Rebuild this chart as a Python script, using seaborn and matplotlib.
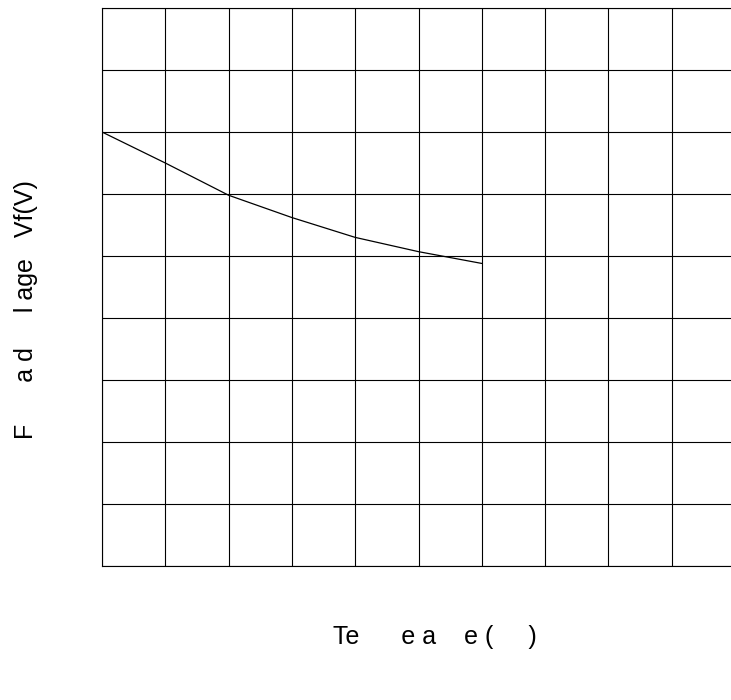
import matplotlib
matplotlib.use("Agg")
import matplotlib.pyplot as plt
import pandas as pd
import seaborn as sns

# grid divisions (no tick labels on the original chart)
temp_div = [0, 1, 2, 3, 4, 5, 6]
vf_div = [7.0, 6.5, 5.98, 5.62, 5.30, 5.07, 4.88]

# labels as they render in the source (missing glyphs show as gaps)
xlabel = "Te" + " " * 6 + "e" + " " + "a" + " " * 4 + "e" + " " + "(" + " " * 5 + ")"
ylabel = "F" + " " * 6 + "a" + " " + "d" + " " * 5 + "l" + " " + "age" + "   " + "Vf(V)"

sns.set_style("white")
plt.rcParams['font.family'] = ['Liberation Sans', 'DejaVu Sans']

df = pd.DataFrame({'Temp': temp_div, 'Vf': vf_div})

fig = plt.figure(figsize=(7.31, 7.0), dpi=100)
ax = fig.add_axes([102 / 731, 134 / 700, 633 / 731, 558 / 700])

sns.lineplot(data=df, x='Temp', y='Vf', color='black', linewidth=0.9, ax=ax)

ax.set_xlim(0, 10)
ax.set_ylim(0, 9)
ax.set_xticks(range(0, 11))
ax.set_yticks(range(0, 10))
ax.set_xticklabels([])
ax.set_yticklabels([])
ax.tick_params(length=0)
ax.grid(True, color='black', linewidth=0.8)
ax.set_xlabel('')
ax.set_ylabel('')
for s in ax.spines.values():
    s.set_color('black')
    s.set_linewidth(0.8)

fig.text(333 / 731, 1 - 644 / 700, xlabel, fontsize=18, color='black',
         ha='left', va='baseline')
fig.text(33 / 731, 1 - 439 / 700, ylabel, fontsize=18, color='black', rotation=90,
         rotation_mode='anchor', ha='left', va='baseline')

fig.savefig('out.png', dpi=100)
